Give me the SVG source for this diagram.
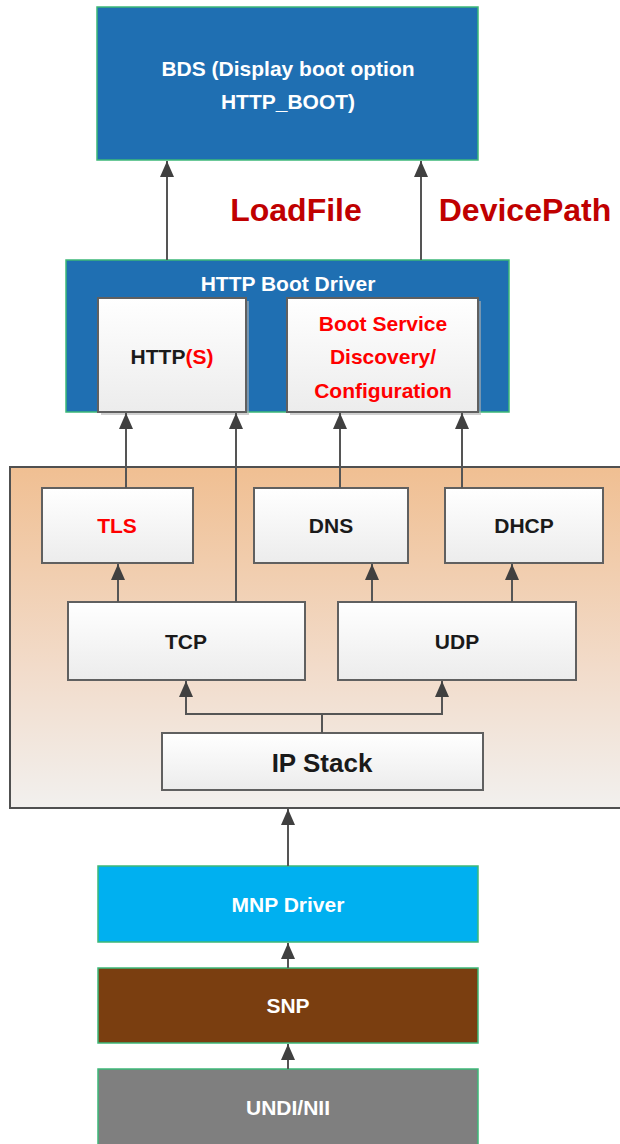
<svg xmlns="http://www.w3.org/2000/svg" width="620" height="1144" viewBox="0 0 620 1144">
<defs>
<linearGradient id="gOrange" x1="0" y1="0" x2="0" y2="1">
<stop offset="0" stop-color="#f0bf92"/>
<stop offset="0.6" stop-color="#f2dccb"/>
<stop offset="1" stop-color="#f2f0ee"/>
</linearGradient>
<linearGradient id="gWhite" x1="0" y1="0" x2="0" y2="1">
<stop offset="0" stop-color="#ffffff"/>
<stop offset="1" stop-color="#ececec"/>
</linearGradient>
<marker id="arr" viewBox="0 0 16 14" refX="16" refY="7" markerWidth="16" markerHeight="14" markerUnits="userSpaceOnUse" orient="auto">
<path d="M0,0 L16,7 L0,14 z" fill="#404040"/>
</marker>
</defs>
<style>
.t{font-family:"Liberation Sans",Arial,sans-serif;font-weight:bold;text-anchor:middle;dominant-baseline:central}
.w{fill:#ffffff;font-size:21px}
.k{fill:#1a1a1a;font-size:21px}
.r{fill:#ff0000;font-size:21px}
.dr{fill:#c00000;font-size:32px}
.colored{stroke:#3cb878;stroke-width:1.5}
.inner{fill:url(#gWhite);stroke:#606060;stroke-width:2}
.shadow{fill:#b0b0b0;opacity:0.6}
.c{fill:none;stroke:#555555;stroke-width:2;marker-end:url(#arr)}
.cl{fill:none;stroke:#555555;stroke-width:2}
</style>
<rect width="620" height="1144" fill="#ffffff"/>

<g id="bds">
<rect x="97" y="7" width="381" height="153" fill="#1f6fb2" class="colored"/>
<text class="t w" x="288" y="68">BDS (Display boot option</text>
<text class="t w" x="288" y="101">HTTP_BOOT)</text>
</g>

<g id="labels">
<text class="t dr" x="296" y="210">LoadFile</text>
<text class="t dr" x="525" y="210">DevicePath</text>
</g>

<g id="http-boot-driver">
<rect x="66" y="260" width="443" height="152" fill="#1f6fb2" class="colored"/>
<text class="t w" x="288" y="283">HTTP Boot Driver</text>
</g>

<g id="https">
<rect x="101" y="301" width="148" height="114" class="shadow"/>
<rect x="98" y="298" width="148" height="114" class="inner"/>
<text class="t k" x="172" y="356">HTTP<tspan fill="#ff0000">(S)</tspan></text>
</g>

<g id="boot-service">
<rect x="290" y="301" width="191" height="114" class="shadow"/>
<rect x="287" y="298" width="191" height="114" class="inner"/>
<text class="t r" x="383" y="323">Boot Service</text>
<text class="t r" x="383" y="356">Discovery/</text>
<text class="t r" x="383" y="390">Configuration</text>
</g>

<g id="network-stack">
<rect x="10" y="467" width="614" height="341" fill="url(#gOrange)" stroke="#505050" stroke-width="2"/>
</g>

<g id="tls">
<rect x="42" y="488" width="151" height="75" class="inner"/>
<text class="t r" x="117" y="525">TLS</text>
</g>
<g id="dns">
<rect x="254" y="488" width="154" height="75" class="inner"/>
<text class="t k" x="331" y="525">DNS</text>
</g>
<g id="dhcp">
<rect x="445" y="488" width="158" height="75" class="inner"/>
<text class="t k" x="524" y="525">DHCP</text>
</g>
<g id="tcp">
<rect x="68" y="602" width="237" height="78" class="inner"/>
<text class="t k" x="186" y="641">TCP</text>
</g>
<g id="udp">
<rect x="338" y="602" width="238" height="78" class="inner"/>
<text class="t k" x="457" y="641">UDP</text>
</g>
<g id="ip-stack">
<rect x="162" y="733" width="321" height="57" class="inner"/>
<text class="t k" x="322" y="763" style="font-size:26px">IP Stack</text>
</g>

<g id="mnp">
<rect x="98" y="866" width="380" height="76" fill="#00b0f0" class="colored"/>
<text class="t w" x="288" y="904">MNP Driver</text>
</g>
<g id="snp">
<rect x="98" y="968" width="380" height="75" fill="#7a3e10" class="colored"/>
<text class="t w" x="288" y="1005">SNP</text>
</g>
<g id="undi">
<rect x="98" y="1069" width="380" height="76" fill="#7f7f7f" class="colored"/>
<text class="t w" x="288" y="1107">UNDI/NII</text>
</g>

<g id="connectors">
<path class="c" d="M167,260 V161"/>
<path class="c" d="M421,260 V161"/>
<path class="c" d="M126,488 V413"/>
<path class="c" d="M236,602 V413"/>
<path class="c" d="M340,488 V413"/>
<path class="c" d="M462,488 V413"/>
<path class="c" d="M118,602 V564"/>
<path class="c" d="M372,602 V564"/>
<path class="c" d="M512,602 V564"/>
<path class="cl" d="M322,733 V714"/>
<path class="c" d="M322,714 H186 V681"/>
<path class="c" d="M322,714 H442 V681"/>
<path class="c" d="M288,866 V809"/>
<path class="c" d="M288,968 V943"/>
<path class="c" d="M288,1069 V1044"/>
</g>
</svg>
